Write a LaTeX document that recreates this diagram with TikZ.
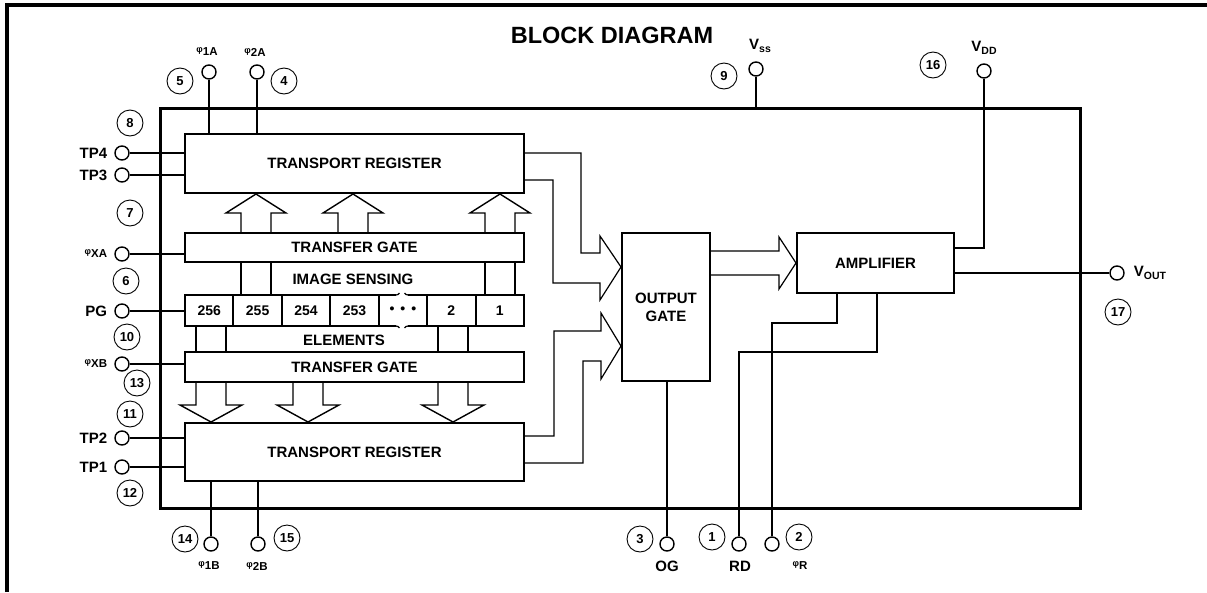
\documentclass[tikz,border=0pt]{standalone}
\usepackage{fontspec}
\setmainfont{Liberation Sans}
\usetikzlibrary{positioning,calc}

\newcommand{\phlab}[1]{\raisebox{3pt}{\fontsize{9}{9}\selectfont φ}\fontsize{11.5}{12}\selectfont #1}
\newcommand{\vlab}[1]{V\raisebox{-3pt}{\fontsize{10.5}{11}\selectfont #1}}

\tikzset{
	blk/.style={draw,line width=2pt,inner sep=0pt,font=\fontsize{15}{18}\selectfont\bfseries},
	cellbox/.style={blk,minimum width=48.43pt,minimum height=31pt,font=\fontsize{14}{16}\selectfont\bfseries},
	pin/.style={draw,circle,line width=1.4pt,minimum size=14pt,inner sep=0pt},
	pinnum/.style={draw,circle,line width=0.9pt,minimum size=26pt,inner sep=0pt,font=\fontsize{13}{13}\selectfont\bfseries},
	pinlab/.style={inner sep=0pt,font=\fontsize{15}{18}\selectfont\bfseries},
	wire/.style={line width=1.2pt},
	fat/.style={line width=1.4pt,line join=miter}
}

\begin{document}
\begin{tikzpicture}[x=1pt,y=-1pt]
	\useasboundingbox (0,0) rectangle (1207,592);
	
	\draw[line width=4pt] (7,592)--(7,5)--(1207,5);
	\node[font=\fontsize{23.5}{26}\selectfont\bfseries] (title) at (612,35) {BLOCK DIAGRAM};
	
	\node[draw,line width=3pt,minimum width=920pt,minimum height=400pt] (chip) at (620,308) {};
	
	\node[blk,minimum width=339pt,minimum height=59pt] (tra) at (354.5,163.5) {TRANSPORT REGISTER};
	\node[blk,minimum width=339pt,minimum height=29pt] (tga) at (354.5,247.5) {TRANSFER GATE};
	\node[blk,minimum width=339pt,minimum height=30pt] (tgb) at (354.5,367) {TRANSFER GATE};
	\node[blk,minimum width=339pt,minimum height=58pt] (trb) at (354.5,452) {TRANSPORT REGISTER};
	\node[blk,minimum width=88pt,minimum height=148pt,align=center] (og) at (666,307) {OUTPUT\\GATE};
	\node[blk,minimum width=157pt,minimum height=60pt] (amp) at (875.5,263) {AMPLIFIER};
	
	% sensing elements
	\foreach \lab [count=\i from 0] in {256,255,254,253,{\textbullet\hspace{6pt}\textbullet\hspace{6pt}\textbullet},2,1}
		\node[cellbox] (cell\i) at (209.2+48.43*\i,310.5) {\lab};
	\fill[white] (396,291) rectangle (408,299);
	\fill[white] (396,322) rectangle (408,330);
	\draw[wire] (396,295) arc[start angle=-90,end angle=-30,radius=4pt];
	\draw[wire] (408,295) arc[start angle=-90,end angle=-150,radius=4pt];
	\draw[wire] (396,326) arc[start angle=90,end angle=30,radius=4pt];
	\draw[wire] (408,326) arc[start angle=90,end angle=150,radius=4pt];
	\node[pinlab] (sense) at (353,279) {IMAGE SENSING};
	\node[pinlab] (elem) at (344,340) {ELEMENTS};
	
	% transfer arrows
	\foreach \x in {256,353,500}{
		\draw[fat] (\x-15,233)--(\x-15,213)--(\x-30,213)--(\x,194)--(\x+30,213)--(\x+15,213)--(\x+15,233);
	}
	\foreach \x in {241,271,485,515}
		\draw[wire] (\x,262)--(\x,295);
	\foreach \x in {196,226,438,468}
		\draw[wire] (\x,326)--(\x,352);
	\foreach \x in {211,308,453}{
		\draw[fat] (\x-15,382)--(\x-15,405)--(\x-31,405)--(\x,422)--(\x+31,405)--(\x+15,405)--(\x+15,382);
	}
	
	% outputs into the output gate
	\draw[wire] ([yshift=10.5pt]tra.east)--(581,153)--(581,253)--(600,253)--(600,236)--([yshift=40pt]og.west)--(600,300)--(600,283)--(553,283)--(553,180)--([yshift=-16.5pt]tra.east);
	\draw[wire] ([yshift=16pt]trb.east)--(554,436)--(554,331)--(601,331)--(601,313)--([yshift=-39pt]og.west)--(601,379)--(601,361)--(583,361)--(583,463)--([yshift=-11pt]trb.east);
	\draw[wire] ($(og.east |- amp.west)+(0,-12)$)--(779,251)--(779,237)--(amp.west)--(779,289)--(779,275)--($(og.east |- amp.west)+(0,12)$);
	
	% pins
	\node[pin] (p1a) at (209,72) {};
	\node[pin] (p2a) at (257,72) {};
	\node[pin] (tp4) at (122,153) {};
	\node[pin] (tp3) at (122,175) {};
	\node[pin] (pxa) at (122,254) {};
	\node[pin] (pg) at (122,311) {};
	\node[pin] (pxb) at (122,364) {};
	\node[pin] (tp2) at (122,438) {};
	\node[pin] (tp1) at (122,467) {};
	\node[pin] (p1b) at (211,544) {};
	\node[pin] (p2b) at (258,544) {};
	\node[pin] (ogp) at (667,544) {};
	\node[pin] (rd) at (739,544) {};
	\node[pin] (pr) at (772,544) {};
	\node[pin] (vss) at (756,69) {};
	\node[pin] (vdd) at (984,71) {};
	\node[pin] (vout) at (1117,273) {};
	
	\draw[wire] (p1a)--(p1a |- tra.north);
	\draw[wire] (p2a)--(p2a |- tra.north);
	\draw[wire] (tp4)--(tp4 -| tra.west);
	\draw[wire] (tp3)--(tp3 -| tra.west);
	\draw[wire] (pxa)--(pxa -| tga.west);
	\draw[wire] (pg)--(pg -| cell0.west);
	\draw[wire] (pxb)--(pxb -| tgb.west);
	\draw[wire] (tp2)--(tp2 -| trb.west);
	\draw[wire] (tp1)--(tp1 -| trb.west);
	\draw[wire] (p1b)--(p1b |- trb.south);
	\draw[wire] (p2b)--(p2b |- trb.south);
	\draw[wire] (ogp)--(ogp |- og.south);
	\draw[wire] (vss)--(vss |- chip.north);
	\draw[wire] (vdd) |- ([yshift=15pt]amp.east);
	\draw[wire] ([yshift=-10pt]amp.east)--(vout);
	\coordinate (rdk) at (877,352);
	\draw[wire] (rd) |- (rdk)--(rdk |- amp.south);
	\coordinate (prk) at (837,323);
	\draw[wire] (pr) |- (prk)--(prk |- amp.south);
	
	% pin labels
	\node[pinlab] (l1a) at (207,52) {\phlab{1A}};
	\node[pinlab] (l2a) at (255,52) {\phlab{2A}};
	\node[pinlab,left=7pt of tp4] (ltp4) {TP4};
	\node[pinlab,left=7pt of tp3] (ltp3) {TP3};
	\node[pinlab,left=7pt of pxa] (lxa) {\phlab{XA}};
	\node[pinlab,left=7pt of pg] (lpg) {PG};
	\node[pinlab,left=7pt of pxb] (lxb) {\phlab{XB}};
	\node[pinlab,left=7pt of tp2] (ltp2) {TP2};
	\node[pinlab,left=7pt of tp1] (ltp1) {TP1};
	\node[pinlab] (l1b) at (209,566) {\phlab{1B}};
	\node[pinlab] (l2b) at (257,566) {\phlab{2B}};
	\node[pinlab] (log) at (667,566) {OG};
	\node[pinlab] (lrd) at (740,566) {RD};
	\node[pinlab] (lr) at (800,566) {\phlab{R}};
	\node[pinlab] (lss) at (760,46) {\vlab{ss}};
	\node[pinlab] (ldd) at (984,48) {\vlab{DD}};
	\node[pinlab,right=9pt of vout] (lout) {\vlab{OUT}};
	
	% pin numbers
	\node[pinnum] (n5) at (180,81) {5};
	\node[pinnum] (n4) at (284,81) {4};
	\node[pinnum] (n8) at (130,123) {8};
	\node[pinnum] (n7) at (130,213) {7};
	\node[pinnum] (n6) at (126,281) {6};
	\node[pinnum] (n10) at (127,337) {10};
	\node[pinnum] (n13) at (137,383) {13};
	\node[pinnum] (n11) at (130,414) {11};
	\node[pinnum] (n12) at (130,493) {12};
	\node[pinnum] (n14) at (185,539) {14};
	\node[pinnum] (n15) at (287,538) {15};
	\node[pinnum] (n3) at (640,539) {3};
	\node[pinnum] (n1) at (712,537) {1};
	\node[pinnum] (n2) at (799,537) {2};
	\node[pinnum] (n9) at (724,76) {9};
	\node[pinnum] (n16) at (933,65) {16};
	\node[pinnum] (n17) at (1118,312) {17};
\end{tikzpicture}
\end{document}
